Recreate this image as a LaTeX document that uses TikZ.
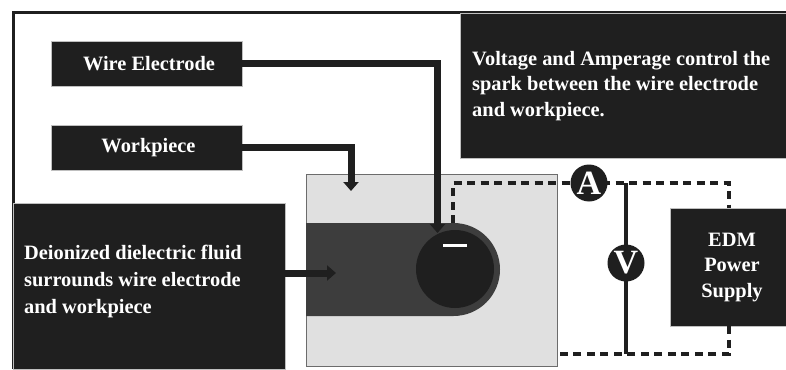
\documentclass[tikz,border=0pt]{standalone}
\usepackage{fontspec}
\setmainfont{Liberation Serif}
\usetikzlibrary{arrows.meta}
\definecolor{ink}{gray}{0.12}
\definecolor{plate}{gray}{0.88}
\definecolor{fluid}{gray}{0.24}
\tikzset{
  blackbox/.style={fill=ink,draw=gray!50,line width=0.4pt,inner sep=0pt},
  boxtext/.style={text=white,inner sep=0pt,font=\bfseries\fontsize{20.4}{25.5}\selectfont},
  leader/.style={draw=ink,line width=7pt,-{Triangle[width=15pt,length=9pt]}},
  dashwire/.style={draw=ink,line width=4pt,dash pattern=on 8pt off 5.5pt},
  meter/.style={circle,fill=ink,minimum size=37pt,inner sep=0pt,text=white,font=\bfseries\fontsize{34}{34}\selectfont}
}
\begin{document}
\begin{tikzpicture}[x=1pt,y=-1pt]
\useasboundingbox (0,0) rectangle (786,369);
\fill[white] (0,0) rectangle (786,369);
% frame
\draw[ink,line width=3pt] (13,369) -- (13,13) -- (786,13);
% workpiece block
\node[draw=gray!85!black,fill=plate,line width=1.2pt,minimum width=251pt,minimum height=192pt,inner sep=0pt,anchor=north west] (block) at (306,174) {};
% dielectric channel and wire
\fill[fluid] (306,223) -- (453.5,223) arc[start angle=-90,end angle=90,radius=46.5] -- (306,316) -- cycle;
\node[circle,fill=ink,minimum size=78pt,inner sep=0pt] (wire) at (455,269) {};
\fill[white] (443,243.5) rectangle (467,246.5);
% boxes
\node[blackbox,minimum width=191pt,minimum height=45pt,anchor=north west] (wirebox) at (51,41) {};
\node[boxtext] (wiretext) at (149,64) {Wire Electrode};
\node[blackbox,minimum width=191pt,minimum height=45pt,anchor=north west] (workbox) at (51,125) {};
\node[boxtext] (worktext) at (148.5,148) {Workpiece};
\node[blackbox,minimum width=272pt,minimum height=166pt,anchor=north west] (fluidbox) at (13,203) {};
\node[boxtext,font=\bfseries\fontsize{20.4}{27}\selectfont,align=left,anchor=west] (fluidtext) at (24,281) {Deionized dielectric fluid\\surrounds wire electrode\\and workpiece};
\node[blackbox,minimum width=326pt,minimum height=145pt,anchor=north west] (notebox) at (460,13) {};
\node[boxtext,align=left,anchor=west] (notetext) at (472,86) {Voltage and Amperage control the\\spark between the wire electrode\\and workpiece.};
\node[blackbox,minimum width=116pt,minimum height=118pt,anchor=north west] (psu) at (670,208) {};
\node[boxtext,align=center] (psutext) at (732,267.5) {EDM\\Power\\Supply};
% coordinates
\coordinate (wtop) at (437.5,63);
\coordinate (wtip) at (437.5,233);
\coordinate (ptop) at (351,147);
\coordinate (ptip) at (351,191);
\coordinate (ftip) at (336,273);
\coordinate (fstart) at (285,273);
\coordinate (dstart) at (453,223);
\coordinate (dcorner) at (453,183);
\coordinate (ajunction) at (626,183);
\coordinate (tr) at (729,183);
\coordinate (br) at (729,354);
\coordinate (vjunction) at (626,354);
\coordinate (bstart) at (558,354);
% leaders
\draw[leader] (wirebox.east |- wtop) -- (wtop) -- (wtip);
\draw[leader] (workbox.east |- ptop) -- (ptop) -- (ptip);
\draw[leader] (fstart) -- (ftip);
% circuit
\draw[dashwire] (dstart) -- (dcorner) -- (tr) -- (psu.north -| tr);
\draw[dashwire] (psu.south -| br) -- (br) -- (bstart);
\draw[ink,line width=4pt] (ajunction) -- (vjunction);
\node[meter] (ammeter) at (589,183) {A};
\node[meter] (voltmeter) at (626,263) {V};
\end{tikzpicture}
\end{document}
